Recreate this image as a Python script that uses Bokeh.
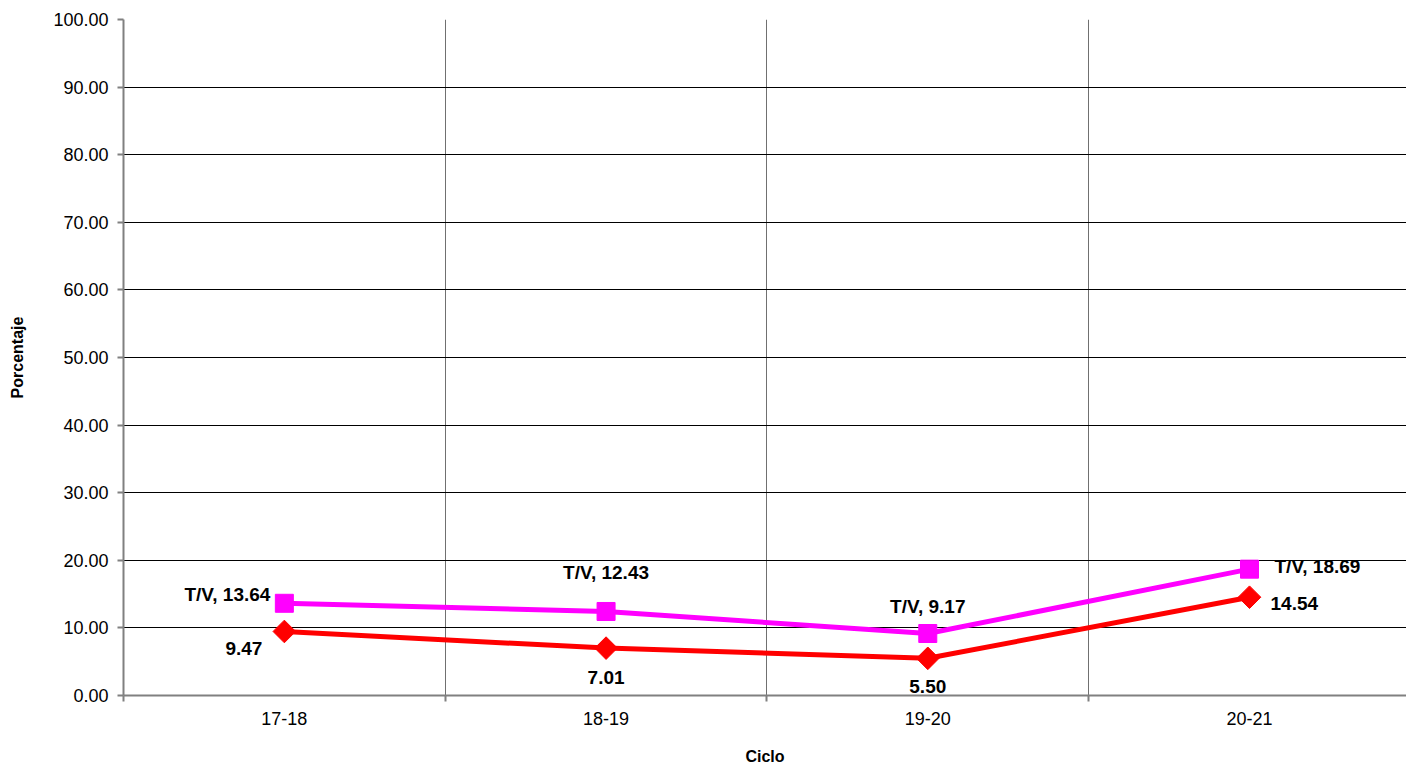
import math
from bokeh.plotting import figure
from bokeh.models import ColumnDataSource, Range1d, FixedTicker, NumeralTickFormatter
from bokeh.core.properties import value
from bokeh.embed import file_html
from bokeh.resources import INLINE

# ---- data ----
ciclos = ["17-18", "18-19", "19-20", "20-21"]
tv_values = [13.64, 12.43, 9.17, 18.69]
total_values = [9.47, 7.01, 5.50, 14.54]
tv_prefix = "T/V, "
y_ticks = [0, 10, 20, 30, 40, 50, 60, 70, 80, 90, 100]

# ---- label placement (screen px) ----
tv_dx = [-14, 0, 0, 25]
tv_dy = [-9, -39, -27, -3]
tv_align = ["right", "center", "center", "left"]
tot_dx = [-22, 0, 0, 21]
tot_dy = [17, 29, 28, 6]
tot_align = ["right", "center", "center", "left"]

FONT = "Liberation Sans"
xs = [i + 0.5 for i in range(len(ciclos))]

p = figure(width=1406, height=767, output_backend="svg", toolbar_location=None,
           x_range=Range1d(0, 3.988), y_range=Range1d(0, 100),
           min_border_left=123, min_border_right=0, min_border_top=19,
           min_border_bottom=72)
p.outline_line_color = None
p.background_fill_color = "white"
p.border_fill_color = "white"

# axes
p.xaxis.ticker = FixedTicker(ticks=xs, minor_ticks=[0, 1, 2, 3, 4])
p.xaxis.major_label_overrides = {x: c for x, c in zip(xs, ciclos)}
p.xaxis.major_tick_out = 0
p.xaxis.major_tick_in = 0
p.xaxis.minor_tick_out = 6
p.xaxis.minor_tick_in = 0
p.xaxis.minor_tick_line_color = "#808080"
p.xaxis.minor_tick_line_width = 2
p.xaxis.major_label_standoff = 10
p.xaxis.axis_label = "Ciclo"
p.xaxis.axis_label_standoff = 20

p.yaxis.ticker = FixedTicker(ticks=y_ticks, minor_ticks=[])
p.yaxis.formatter = NumeralTickFormatter(format="0.00")
p.yaxis.major_tick_out = 6
p.yaxis.major_tick_in = 0
p.yaxis.major_label_standoff = 9
p.yaxis.axis_label = "Porcentaje"
p.yaxis.axis_label_standoff = 24

for ax in (p.xaxis, p.yaxis):
    ax.axis_line_color = "#808080"
    ax.axis_line_width = 2
    ax.major_tick_line_color = "#808080"
    ax.major_tick_line_width = 2
    ax.major_label_text_font = FONT
    ax.major_label_text_font_size = "18px"
    ax.major_label_text_color = "black"
    ax.axis_label_text_font = FONT
    ax.axis_label_text_font_size = "16px"
    ax.axis_label_text_font_style = "bold"
    ax.axis_label_text_color = "black"

p.xgrid.ticker = FixedTicker(ticks=[0, 1, 2, 3, 4])
p.xgrid.grid_line_color = "#707070"
p.xgrid.grid_line_width = 1
p.ygrid.ticker = FixedTicker(ticks=y_ticks)
p.ygrid.grid_line_color = "black"
p.ygrid.grid_line_width = 1

# series
tv_src = ColumnDataSource(dict(x=xs, y=tv_values,
                               lab=[tv_prefix + f"{v:.2f}" for v in tv_values],
                               dx=tv_dx, dy=tv_dy, al=tv_align))
tot_src = ColumnDataSource(dict(x=xs, y=total_values,
                                lab=[f"{v:.2f}" for v in total_values],
                                dx=tot_dx, dy=tot_dy, al=tot_align))

p.line("x", "y", source=tv_src, line_color="#FF00FF", line_width=5)
p.scatter("x", "y", source=tv_src, marker="square", size=18,
          fill_color="#FF00FF", line_color="#FF00FF")
p.line("x", "y", source=tot_src, line_color="#FF0000", line_width=5)
p.scatter("x", "y", source=tot_src, marker="square", size=16, angle=math.pi / 4,
          fill_color="#FF0000", line_color="#FF0000")

for src in (tv_src, tot_src):
    p.text("x", "y", text="lab", source=src, x_offset="dx", y_offset="dy",
           text_align="al", text_baseline="middle",
           text_font=value(FONT), text_font_size="19px", text_font_style="bold",
           text_color="black")

open("out.html", "w").write(file_html(p, INLINE))
